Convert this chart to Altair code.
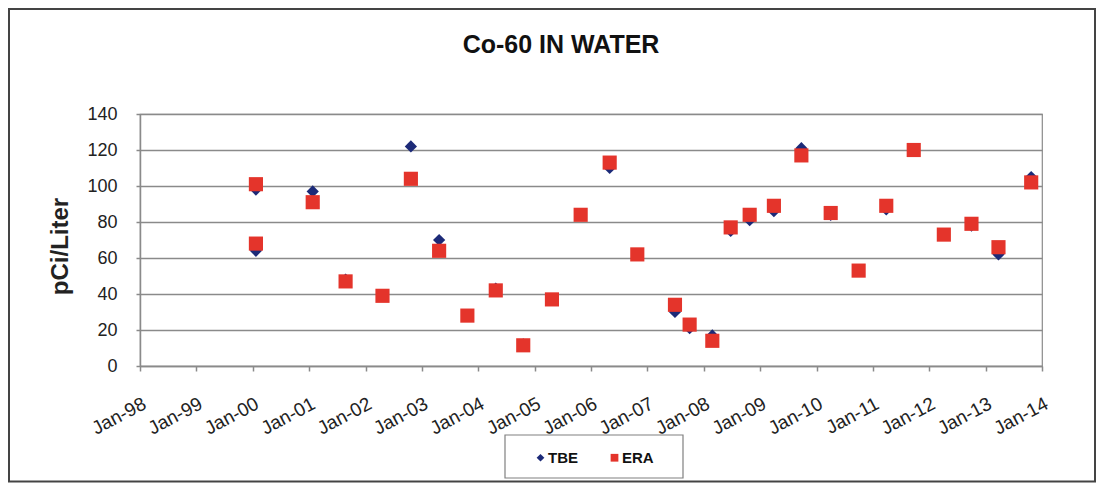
import altair as alt
import pandas as pd

# ---- data ----
sample_dates = [
    "2000-01-22", "2000-01-22", "2001-01-24", "2001-08-25", "2002-04-21",
    "2002-10-22", "2003-04-23", "2003-10-23", "2004-04-24", "2004-10-19",
    "2005-04-23", "2005-10-26", "2006-05-02", "2006-10-28", "2007-06-29",
    "2007-10-02", "2008-02-26", "2008-06-24", "2008-10-25", "2009-03-31",
    "2009-09-25", "2010-04-03", "2010-10-01", "2011-03-29", "2011-09-23",
    "2012-04-05", "2012-10-01", "2013-03-25", "2013-10-23",
]
tbe_values = [
    98, 64, 97, 48, 39,
    122, 70, 28, 43, 12,
    37, 84, 110, 62, 30,
    21, 17, 75, 81, 86,
    121, 84, 53, 87, 120,
    73, 78, 62, 105,
]
era_values = [
    101, 68, 91, 47, 39,
    104, 64, 28, 42, 11.5,
    37, 84, 113, 62, 34,
    23, 14, 77, 84, 89,
    117, 85, 53, 89, 120,
    73, 79, 66, 102,
]
series_names = ["TBE", "ERA"]
series_colors = ["#1c2a78", "#e4342b"]
series_shapes = ["diamond", "square"]
year_ticks = list(range(1998, 2015))
y_ticks = [0, 20, 40, 60, 80, 100, 120, 140]
chart_title = "Co-60 IN WATER"
y_title = "pCi/Liter"

n = len(sample_dates)
df = pd.DataFrame({
    "date": sample_dates * 2,
    "value": tbe_values + era_values,
    "series": [series_names[0]] * n + [series_names[1]] * n,
})

FONT = "Liberation Sans"

base = alt.Chart(df).encode(
    x=alt.X(
        "date:T",
        title=None,
        scale=alt.Scale(
            type="utc",
            domain=[alt.DateTime(year=year_ticks[0], month=1, date=1, utc=True),
                    alt.DateTime(year=year_ticks[-1], month=1, date=1, utc=True)],
        ),
        axis=alt.Axis(
            values=[alt.DateTime(year=y, month=1, date=1, utc=True) for y in year_ticks],
            format="%b-%y",
            labelAngle=-28,
            labelAlign="right",
            labelBaseline="top",
            labelFont=FONT,
            labelFontSize=19,
            labelColor="#222222",
            labelPadding=23,
            labelOverlap=False,
            labelFlush=False,
            grid=False,
            domainColor="#8a8a8a",
            domainWidth=1.5,
            tickColor="#8a8a8a",
            tickSize=5,
            tickWidth=1.5,
        ),
    ),
    y=alt.Y(
        "value:Q",
        scale=alt.Scale(domain=[0, 140], nice=False, zero=True),
        axis=alt.Axis(
            values=y_ticks,
            title=y_title,
            titleFont=FONT,
            titleFontSize=24,
            titleFontWeight="bold",
            titleColor="#222222",
            titleAngle=270,
            titleX=-80,
            titleY=132,
            titleAlign="center",
            titleBaseline="middle",
            labelFont=FONT,
            labelFontSize=18,
            labelColor="#222222",
            labelPadding=19,
            grid=True,
            gridColor="#8a8a8a",
            gridWidth=1.5,
            domainColor="#8a8a8a",
            domainWidth=1.5,
            tickColor="#8a8a8a",
            tickSize=4,
            tickWidth=1.5,
        ),
    ),
    color=alt.Color(
        "series:N",
        scale=alt.Scale(domain=series_names, range=series_colors),
        legend=alt.Legend(
            title=None,
            orient="none",
            legendX=393,
            legendY=336,
            direction="horizontal",
            labelFont=FONT,
            labelFontSize=15,
            labelFontWeight="bold",
            labelColor="#111111",
            symbolSize=60,
            labelOffset=0,
            columnPadding=29,
            padding=0,
        ),
    ),
    shape=alt.Shape(
        "series:N",
        scale=alt.Scale(domain=series_names, range=series_shapes),
    ),
)

tbe_points = base.transform_filter(
    alt.datum.series == series_names[0]
).mark_point(filled=True, opacity=1, size=150)

era_points = base.transform_filter(
    alt.datum.series == series_names[1]
).mark_point(filled=True, opacity=1, size=200)

deco = pd.DataFrame({"k": [0]})

outer_border = alt.Chart(deco).mark_rect(
    fillOpacity=0, stroke="#444444", strokeWidth=2
).encode(
    x=alt.value(-131), x2=alt.value(955), y=alt.value(-105), y2=alt.value(367.5)
)

legend_box = alt.Chart(deco).mark_rect(
    fillOpacity=0, stroke="#808080", strokeWidth=1.2
).encode(
    x=alt.value(365), x2=alt.value(543), y=alt.value(321), y2=alt.value(364)
)

title_text = alt.Chart(deco).mark_text(
    text=chart_title,
    font=FONT,
    fontSize=25,
    fontWeight="bold",
    color="#111111",
    align="center",
    baseline="alphabetic",
).encode(x=alt.value(421), y=alt.value(-61))

chart = alt.layer(outer_border, legend_box, title_text, tbe_points, era_points).properties(
    width=902,
    height=252,
    autosize=alt.AutoSizeParams(type="none"),
    padding={"left": 132, "top": 106, "right": 55, "bottom": 117},
    background="white",
).configure_view(stroke="#8a8a8a", strokeWidth=1.2)

chart.save("out.html", embed_options={"renderer": "svg", "actions": False})
